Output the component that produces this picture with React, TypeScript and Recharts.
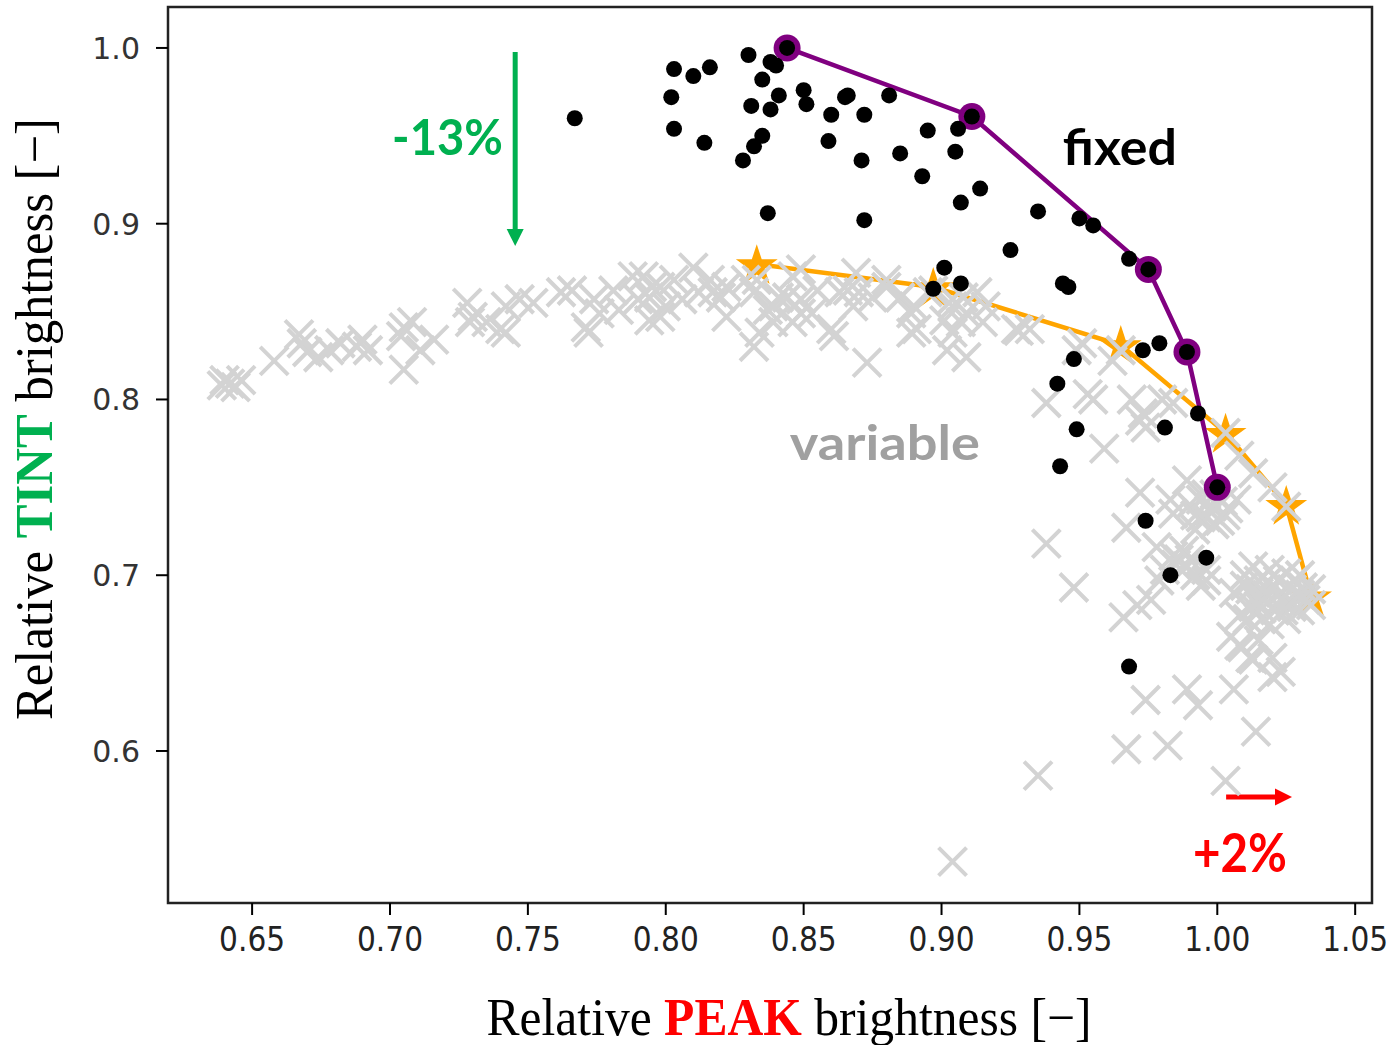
import React from 'react'
import {
  ScatterChart,
  Scatter,
  XAxis,
  YAxis,
  ReferenceArea,
  ReferenceLine,
  ReferenceDot,
} from 'recharts'

const xTicks = [0.65, 0.7, 0.75, 0.8, 0.85, 0.9, 0.95, 1.0, 1.05]
const yTicks = [0.6, 0.7, 0.8, 0.9, 1.0]

// grey crosses: "variable" runs
const variablePts: [number, number][] = [
  [0.639, 0.808], [0.642, 0.809], [0.646, 0.811], [0.644, 0.807], [0.640, 0.811],
  [0.658, 0.822], [0.667, 0.837], [0.668, 0.832], [0.670, 0.827], [0.674, 0.824],
  [0.678, 0.828], [0.682, 0.832], [0.688, 0.830], [0.692, 0.828], [0.690, 0.834],
  [0.705, 0.841], [0.708, 0.844], [0.704, 0.836], [0.711, 0.828], [0.705, 0.817],
  [0.716, 0.834], [0.728, 0.855], [0.730, 0.847], [0.729, 0.844], [0.735, 0.844],
  [0.740, 0.840], [0.742, 0.853], [0.747, 0.857], [0.752, 0.855], [0.742, 0.838],
  [0.762, 0.861], [0.766, 0.862], [0.774, 0.857], [0.771, 0.841], [0.776, 0.849],
  [0.781, 0.862], [0.783, 0.851], [0.788, 0.870], [0.792, 0.870], [0.794, 0.858],
  [0.795, 0.864], [0.798, 0.864], [0.790, 0.857], [0.800, 0.853], [0.803, 0.868],
  [0.806, 0.857], [0.798, 0.847], [0.794, 0.845], [0.772, 0.838], [0.810, 0.875],
  [0.812, 0.861], [0.816, 0.868], [0.817, 0.861], [0.820, 0.858], [0.822, 0.864],
  [0.822, 0.847], [0.829, 0.868], [0.832, 0.861], [0.833, 0.868], [0.832, 0.830],
  [0.834, 0.838], [0.837, 0.851], [0.839, 0.844], [0.839, 0.853], [0.841, 0.858],
  [0.844, 0.858], [0.846, 0.870], [0.849, 0.874], [0.849, 0.857], [0.849, 0.849],
  [0.846, 0.844], [0.853, 0.849], [0.855, 0.862], [0.860, 0.840], [0.861, 0.836],
  [0.863, 0.861], [0.866, 0.862], [0.868, 0.853], [0.869, 0.872], [0.870, 0.861],
  [0.873, 0.821], [0.875, 0.858], [0.880, 0.868], [0.880, 0.864], [0.885, 0.858],
  [0.889, 0.849], [0.889, 0.838], [0.890, 0.853], [0.891, 0.840], [0.895, 0.861],
  [0.897, 0.862], [0.901, 0.845], [0.902, 0.828], [0.904, 0.857], [0.904, 0.853],
  [0.904, 0.838], [0.907, 0.844], [0.908, 0.858], [0.909, 0.849], [0.909, 0.824],
  [0.913, 0.861], [0.915, 0.844], [0.916, 0.853], [0.927, 0.840], [0.928, 0.839],
  [0.932, 0.840], [0.938, 0.798], [0.949, 0.828], [0.951, 0.832], [0.953, 0.803],
  [0.955, 0.800], [0.962, 0.822], [0.965, 0.828], [0.969, 0.800], [0.973, 0.792],
  [0.974, 0.784], [0.972, 0.788], [0.980, 0.800], [0.984, 0.798], [0.959, 0.772],
  [1.003, 0.781], [0.938, 0.718], [0.948, 0.693], [0.972, 0.747], [0.967, 0.727],
  [0.978, 0.716], [0.984, 0.735], [0.984, 0.711], [0.986, 0.709], [0.989, 0.754],
  [0.989, 0.705], [0.994, 0.733], [0.996, 0.733], [0.996, 0.703], [0.996, 0.697],
  [0.998, 0.739], [1.001, 0.731], [1.002, 0.742], [1.007, 0.743], [1.013, 0.758],
  [1.020, 0.750], [1.025, 0.739], [1.006, 0.690], [1.013, 0.705], [1.018, 0.696],
  [1.025, 0.701], [1.023, 0.690], [1.031, 0.693], [1.013, 0.682], [1.027, 0.682],
  [1.020, 0.693], [1.030, 0.689], [0.979, 0.697], [0.976, 0.686], [0.971, 0.683],
  [0.966, 0.676], [1.005, 0.665], [1.008, 0.677], [1.008, 0.660], [1.012, 0.653],
  [1.015, 0.663], [1.020, 0.653], [1.023, 0.645], [1.020, 0.642], [1.009, 0.659],
  [1.013, 0.652], [0.974, 0.629], [0.989, 0.635], [0.993, 0.626], [1.006, 0.635],
  [1.014, 0.611], [0.967, 0.601], [0.982, 0.603], [0.935, 0.586], [1.003, 0.583],
  [0.904, 0.537], [0.983, 0.743], [1.015, 0.697], [1.017, 0.686], [1.021, 0.680],
  [1.026, 0.686], [1.034, 0.692], [1.025, 0.675], [1.030, 0.680], [1.012, 0.692],
  [1.010, 0.700], [1.019, 0.703], [1.028, 0.697], [1.034, 0.683], [1.016, 0.675],
  [1.023, 0.686], [1.014, 0.686], [0.990, 0.740], [0.996, 0.746], [0.999, 0.729],
  [0.992, 0.726], [0.981, 0.703], [0.992, 0.700], [0.988, 0.714], [1.008, 0.768],
  [1.010, 0.694], [1.015, 0.690], [1.018, 0.689], [1.022, 0.697], [1.027, 0.692],
  [1.032, 0.686], [1.024, 0.680], [1.016, 0.681], [1.011, 0.675], [1.030, 0.700],
  [1.019, 0.672], [0.994, 0.743], [0.997, 0.737], [1.003, 0.734], [0.992, 0.734],
  [0.999, 0.746], [1.004, 0.738], [0.985, 0.706], [0.990, 0.709], [0.994, 0.694],
]

// black dots: "fixed" runs
const fixedPts: [number, number][] = [
  [0.767, 0.960], [0.802, 0.972], [0.803, 0.988], [0.810, 0.984], [0.816, 0.989],
  [0.803, 0.954], [0.814, 0.946], [0.830, 0.996], [0.838, 0.992], [0.840, 0.990],
  [0.835, 0.982], [0.841, 0.973], [0.831, 0.967], [0.838, 0.965], [0.850, 0.976],
  [0.851, 0.968], [0.860, 0.962], [0.865, 0.972], [0.866, 0.973], [0.872, 0.962],
  [0.881, 0.973], [0.895, 0.953], [0.906, 0.954], [0.835, 0.950], [0.832, 0.944],
  [0.828, 0.936], [0.859, 0.947], [0.871, 0.936], [0.885, 0.940], [0.905, 0.941],
  [0.893, 0.927], [0.907, 0.912], [0.914, 0.920], [0.837, 0.906], [0.872, 0.902],
  [0.901, 0.875], [0.897, 0.863], [0.907, 0.866], [0.935, 0.907], [0.950, 0.903],
  [0.955, 0.899], [0.968, 0.880], [0.925, 0.885], [0.944, 0.866], [0.946, 0.864],
  [0.973, 0.828], [0.979, 0.832], [0.948, 0.823], [0.942, 0.809], [0.993, 0.792],
  [0.949, 0.783], [0.981, 0.784], [0.943, 0.762], [0.974, 0.731], [0.996, 0.710],
  [0.983, 0.700], [0.968, 0.648],
  [0.844, 1.0], [0.911, 0.961], [0.975, 0.874], [0.989, 0.827], [1.0, 0.750],
]

// pareto fronts
const fixedFront: [number, number][] = [
  [0.844, 1.0], [0.911, 0.961], [0.975, 0.874], [0.989, 0.827], [1.0, 0.750],
]
const variableFront: [number, number][] = [
  [0.833, 0.877], [0.897, 0.864], [0.965, 0.831], [1.003, 0.781], [1.025, 0.740], [1.034, 0.688],
]

const toRows = (pts: [number, number][]) => pts.map(([x, y]) => ({ x, y }))

const X_DOMAIN: [number, number] = [0.6195, 1.0561]
const Y_DOMAIN: [number, number] = [0.5135, 1.0233]

function starPath(cx: number, cy: number, R: number) {
  const r = R * 0.382
  let d = ''
  for (let i = 0; i < 10; i++) {
    const rad = i % 2 === 0 ? R : r
    const a = -Math.PI / 2 + (i * Math.PI) / 5
    d += (i === 0 ? 'M' : 'L') + (cx + rad * Math.cos(a)).toFixed(2) + ',' + (cy + rad * Math.sin(a)).toFixed(2)
  }
  return d + 'Z'
}

const Cross = ({ cx, cy }: any) => {
  const h = 14
  return (
    <path
      d={`M${cx - h},${cy - h}L${cx + h},${cy + h}M${cx - h},${cy + h}L${cx + h},${cy - h}`}
      stroke="#d3d3d3"
      strokeWidth={4}
      fill="none"
    />
  )
}
const Dot = ({ cx, cy }: any) => <circle cx={cx} cy={cy} r={8} fill="#000" />
const Ring = ({ cx, cy }: any) => <circle cx={cx} cy={cy} r={13.5} fill="#800080" />
const Star = ({ cx, cy }: any) => <path d={starPath(cx, cy + 2, 22)} fill="#ffa500" />

function XTick({ x, y, payload }: any) {
  return (
    <text x={x} y={y} dy="0.71em" textAnchor="middle" fontFamily="DejaVu Sans" fontSize={34}
      fill="#222" textLength={66} lengthAdjust="spacingAndGlyphs">
      {Number(payload.value).toFixed(2)}
    </text>
  )
}

function YTick({ x, y, payload }: any) {
  return (
    <text x={x} y={y} dy="0.36em" textAnchor="end" fontFamily="DejaVu Sans" fontSize={30} fill="#333">
      {Number(payload.value).toFixed(1)}
    </text>
  )
}

const XTitle = () => (
  <text x={789} y={1035} textAnchor="middle" fontFamily="Liberation Serif" fontSize={52}
    fill="#000" textLength={605} lengthAdjust="spacingAndGlyphs">
    <tspan>Relative </tspan>
    <tspan fill="#ff0000" fontWeight="bold">PEAK</tspan>
    <tspan> brightness [−]</tspan>
  </text>
)

const YTitle = () => (
  <text transform="rotate(-90)" x={-419} y={52} textAnchor="middle" fontFamily="Liberation Serif"
    fontSize={52} fill="#000" textLength={602} lengthAdjust="spacingAndGlyphs">
    <tspan>Relative </tspan>
    <tspan fill="#00b050" fontWeight="bold">TINT</tspan>
    <tspan> brightness [−]</tspan>
  </text>
)

function Arrow({ x1, y1, x2, y2, color }: any) {
  const len = Math.hypot(x2 - x1, y2 - y1)
  const ux = (x2 - x1) / len
  const uy = (y2 - y1) / len
  const head = 17
  const half = 8.5
  const bx = x2 - ux * head
  const by = y2 - uy * head
  return (
    <g>
      <line x1={x1} y1={y1} x2={bx} y2={by} stroke={color} strokeWidth={5} />
      <polygon
        points={`${x2},${y2} ${bx - uy * half},${by + ux * half} ${bx + uy * half},${by - ux * half}`}
        fill={color}
      />
    </g>
  )
}

const note = (text: string, color: string, size: number, len: number, anchor: string) => (p: any) => (
  <text x={p.cx} y={p.cy} textAnchor={anchor} fontFamily="Lato" fontWeight={700} fontSize={size}
    fill={color} textLength={len} lengthAdjust="spacingAndGlyphs">
    {text}
  </text>
)

export default function App() {
  return (
    <div style={{ position: 'absolute', left: 0, top: 0, background: '#fff' }}>
      <ScatterChart width={1394} height={1045} margin={{ top: 7, right: 22, bottom: 0, left: 0 }}>
        <XAxis
          type="number"
          dataKey="x"
          domain={X_DOMAIN}
          ticks={xTicks}
          allowDataOverflow
          height={142}
          axisLine={false}
          tickLine={{ stroke: '#000', strokeWidth: 2 }}
          tickSize={12}
          tickMargin={12}
          tick={(p: any) => <XTick {...p} />}
          label={{ content: () => <XTitle /> }}
        />
        <YAxis
          type="number"
          dataKey="y"
          domain={Y_DOMAIN}
          ticks={yTicks}
          allowDataOverflow
          width={168}
          axisLine={false}
          tickLine={{ stroke: '#000', strokeWidth: 2 }}
          tickSize={12}
          tickMargin={16}
          tick={(p: any) => <YTick {...p} />}
          label={{ content: () => <YTitle /> }}
        />
        <Scatter
          data={toRows(variableFront)}
          line={{ stroke: '#ffa500', strokeWidth: 4.5 }}
          lineType="joint"
          shape={(p: any) => <Star {...p} />}
          isAnimationActive={false}
        />
        <Scatter data={toRows(variablePts)} shape={(p: any) => <Cross {...p} />} isAnimationActive={false} />
        <Scatter
          data={toRows(fixedFront)}
          line={{ stroke: '#800080', strokeWidth: 4.5 }}
          lineType="joint"
          shape={(p: any) => <Ring {...p} />}
          isAnimationActive={false}
        />
        <Scatter data={toRows(fixedPts)} shape={(p: any) => <Dot {...p} />} isAnimationActive={false} />

        <ReferenceLine
          segment={[{ x: 0.7454, y: 0.9977 }, { x: 0.7454, y: 0.8873 }]}
          shape={(p: any) => <Arrow {...p} color="#00b050" />}
        />
        <ReferenceLine
          segment={[{ x: 1.0032, y: 0.5738 }, { x: 1.0271, y: 0.5738 }]}
          shape={(p: any) => <Arrow {...p} color="#ff0000" />}
        />
        <ReferenceDot x={0.741} y={0.939} r={0} shape={note('-13%', '#00b050', 50, 111, 'end')} />
        <ReferenceDot x={0.944} y={0.9334} r={0} shape={note('fixed', '#000', 50, 114, 'start')} />
        <ReferenceDot x={0.845} y={0.7656} r={0} shape={note('variable', '#a0a0a0', 48, 190, 'start')} />
        <ReferenceDot x={0.9912} y={0.5311} r={0} shape={note('+2%', '#ff0000', 54, 94, 'start')} />

        <ReferenceArea
          x1={X_DOMAIN[0]}
          x2={X_DOMAIN[1]}
          y1={Y_DOMAIN[0]}
          y2={Y_DOMAIN[1]}
          fill="none"
          stroke="#222"
          strokeWidth={2.5}
        />
      </ScatterChart>
    </div>
  )
}
